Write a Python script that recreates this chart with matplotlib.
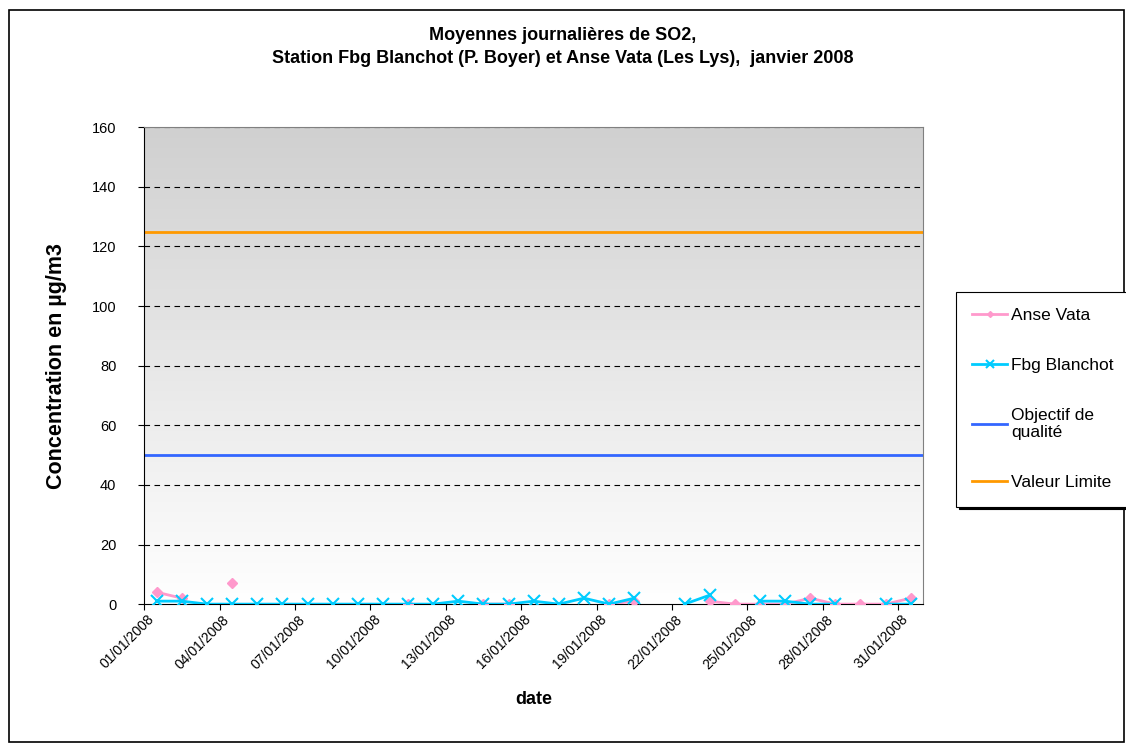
import numpy as np
import matplotlib
matplotlib.use("Agg")
import matplotlib.pyplot as plt
from matplotlib.patches import Rectangle

plt.rcParams['font.family'] = ['Liberation Sans', 'DejaVu Sans']

days = ["%02d/01/2008" % d for d in range(1, 32)]
# None = no measurement
anse_vata = [4, 2, None, 7, None, None, None, None, None, None,
             0, None, None, 0, 0, None, None, None, 0, 1,
             None, None, 1, 0, 0, 0, 2, 0, 0, 0, 2]
fbg_blanchot = [1, 1, 0, 0, 0, 0, 0, 0, 0, 0,
                0, 0, 1, 0, 0, 1, 0, 2, 0, 2,
                None, 0, 3, None, 1, 1, 0, 0, None, 0, 0]
objectif = 50
valeur_limite = 125

x = np.arange(len(days))
av = np.array([np.nan if v is None else v for v in anse_vata], dtype=float)
fb = np.array([np.nan if v is None else v for v in fbg_blanchot], dtype=float)

fig = plt.figure(figsize=(11.26, 7.44), dpi=100)
fig.patches.append(Rectangle((0.008, 0.003), 0.99, 0.984, transform=fig.transFigure,
                             fill=False, edgecolor='black', linewidth=1.2))
ax = fig.add_axes([0.128, 0.188, 0.692, 0.641])

# gradient background of plot area
grad = np.linspace(1, 0, 256).reshape(-1, 1)
ax.imshow(grad, cmap=matplotlib.colors.LinearSegmentedColormap.from_list('g', ['#ffffff', '#d0d0d0']),
          aspect='auto', extent=[0, 1, 0, 1], transform=ax.transAxes, zorder=0)

for yv in range(20, 161, 20):
    ax.axhline(yv, color='black', linestyle=(0, (5, 4)), linewidth=0.8, zorder=1)

ax.plot(x, av, color='#ff99cc', marker='D', markersize=5, linewidth=2, label='Anse Vata', zorder=3)
ax.plot(x, fb, color='#00ccff', marker='x', markersize=9, markeredgewidth=1.5, linewidth=2,
        label='Fbg Blanchot', zorder=4)
ax.axhline(objectif, color='#3366ff', linewidth=2, label='Objectif de\nqualité', zorder=2)
ax.axhline(valeur_limite, color='#ff9900', linewidth=2, label='Valeur Limite', zorder=2)

ax.set_xlim(-0.5, len(days) - 0.5)
ax.set_ylim(0, 160)
ax.set_yticks(range(0, 161, 20))
ax.tick_params(axis='y', labelsize=10.5, direction='out', length=4, pad=16)
ax.set_xticks(np.arange(-0.5, len(days), 3))
ax.set_xticklabels([])
ax.set_xticks(x[::3], minor=True)
ax.set_xticklabels(days[::3], minor=True, rotation=45, ha='right', va='top', fontsize=10)
ax.tick_params(axis='x', which='major', direction='out', length=4)
ax.tick_params(axis='x', which='minor', length=0, pad=6)
for side in ['top', 'right']:
    ax.spines[side].set_color('#808080')
ax.spines['left'].set_color('black')
ax.spines['bottom'].set_color('black')

ax.set_xlabel('date', fontsize=13, fontweight='bold', labelpad=14)
ax.set_ylabel('Concentration en µg/m3', fontsize=15.5, fontweight='bold', labelpad=18)
fig.text(0.5, 0.937, 'Moyennes journalières de SO2,\nStation Fbg Blanchot (P. Boyer) et Anse Vata (Les Lys),  janvier 2008',
         ha='center', va='center', fontsize=13, fontweight='bold', linespacing=1.45)

leg = fig.legend(loc='upper left', bbox_to_anchor=(0.849, 0.608), frameon=True, fancybox=False,
                 shadow={'color': 'black', 'alpha': 1}, edgecolor='black', fontsize=12.5,
                 handlelength=2.0, handletextpad=0.22, labelspacing=2.0, borderpad=0.95,
                 borderaxespad=0, markerscale=0.6)
leg.get_frame().set_linewidth(0.8)

fig.savefig('out.png', dpi=100)
